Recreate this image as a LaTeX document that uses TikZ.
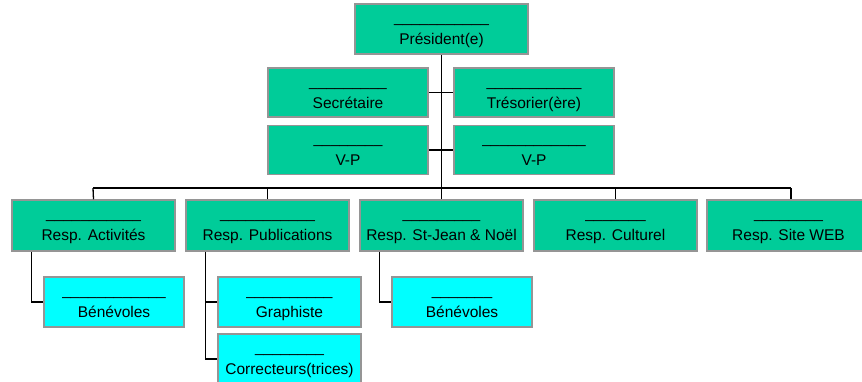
\documentclass[tikz,border=0pt]{standalone}
\usepackage{fontspec}
\setmainfont{Liberation Sans}
\definecolor{boxgreen}{HTML}{00CC99}
\definecolor{boxcyan}{HTML}{00FFFF}
\definecolor{boxedge}{HTML}{959595}
\tikzset{
  gbox/.style={draw=boxedge, line width=1.5pt, fill=boxgreen, inner sep=0pt, rectangle},
  cbox/.style={draw=boxedge, line width=1.5pt, fill=boxcyan, inner sep=0pt, rectangle},
  txt/.style={inner sep=0pt, font=\fontsize{15.5}{18}\selectfont, text=black},
  link/.style={draw=black, line width=1.3pt}
}
% name, style, cx, cy, w, h, underscores, label
\newcommand\obox[8]{%
  \node[#2, minimum width=#5pt, minimum height=#6pt] (#1) at (#3,#4) {};
  \node[txt, anchor=base] (#1u) at ([yshift=-19pt]#1.north) {#7};
  \node[txt, anchor=base] (#1t) at ([yshift=-41pt]#1.north) {#8};
}
\begin{document}
\begin{tikzpicture}[x=1pt,y=-1pt]
\useasboundingbox (0,0) rectangle (862,381);
\coordinate (busL) at (93,188);
\coordinate (busR) at (791,188);
\obox{pres}{gbox}{441.5}{29}{173}{50}{\_\_\_\_\_\_\_\_\_\_\_}{Président(e)}
\obox{sec}{gbox}{348}{92.5}{160}{49}{\_\_\_\_\_\_\_\_\_}{Secrétaire}
\obox{tres}{gbox}{534}{92.5}{160}{49}{\_\_\_\_\_\_\_\_\_\_\_}{Trésorier(ère)}
\obox{vpa}{gbox}{348}{150}{160}{49}{\_\_\_\_\_\_\_\_}{V-P}
\obox{vpb}{gbox}{534}{150}{160}{49}{\_\_\_\_\_\_\_\_\_\_\_\_}{V-P}
\obox{act}{gbox}{93.5}{225.5}{163}{51}{\_\_\_\_\_\_\_\_\_\_\_}{Resp. Activités}
\obox{pub}{gbox}{267.5}{225.5}{163}{51}{\_\_\_\_\_\_\_\_\_\_\_}{Resp. Publications}
\obox{stj}{gbox}{441.5}{225.5}{163}{51}{\_\_\_\_\_\_\_\_\_}{Resp. St-Jean \& Noël}
\obox{cul}{gbox}{615.5}{225.5}{163}{51}{\_\_\_\_\_\_\_}{Resp. Culturel}
\obox{web}{gbox}{788.5}{225.5}{163}{51}{\_\_\_\_\_\_\_\_}{Resp. Site WEB}
\obox{bena}{cbox}{114}{302}{140}{50}{\_\_\_\_\_\_\_\_\_\_\_\_}{Bénévoles}
\obox{gra}{cbox}{289.5}{302}{143}{50}{\_\_\_\_\_\_\_\_\_\_}{Graphiste}
\obox{cor}{cbox}{289.5}{359}{143}{50}{\_\_\_\_\_\_\_\_}{Correcteurs(trices)}
\obox{benb}{cbox}{462}{302}{140}{50}{\_\_\_\_\_\_\_}{Bénévoles}
% connectors
\draw[link] (pres.south) -- (pres.south |- busL);
\draw[link] (sec.east) -- (tres.west);
\draw[link] (vpa.east) -- (vpb.west);
\draw[link] (busL) -- (busR);
\draw[link] (busL) -- (act.north);
\draw[link] (pub.north |- busL) -- (pub.north);
\draw[link] (stj.north |- busL) -- (stj.north);
\draw[link] (cul.north |- busL) -- (cul.north);
\draw[link] (busR) -- (busR |- web.north);
\draw[link] ([xshift=20pt]act.south west) |- (bena.west);
\draw[link] ([xshift=20pt]pub.south west) |- (gra.west);
\draw[link] ([xshift=20pt]pub.south west) |- (cor.west);
\draw[link] ([xshift=20pt]stj.south west) |- (benb.west);
\end{tikzpicture}
\end{document}
